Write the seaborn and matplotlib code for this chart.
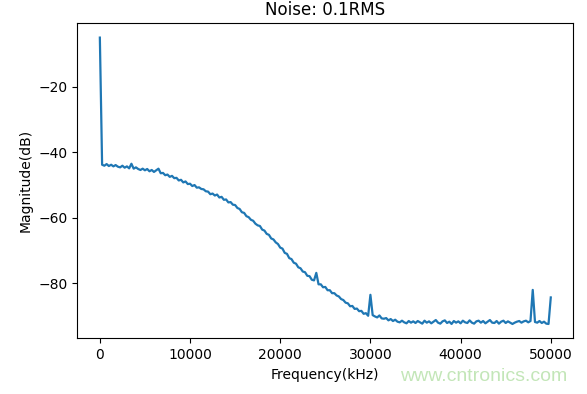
import matplotlib
matplotlib.use("Agg")
import matplotlib.pyplot as plt
import seaborn as sns
import pandas as pd
import numpy as np

# frequency grid (kHz), one reading every 250 kHz
freq_step = 250
freq_khz = list(range(0, 50001, freq_step))

# magnitude (dB), rows of 10 readings (2500 kHz each)
magnitude_db = [
    -5.0, -43.8, -44.1, -43.6, -44.2, -43.8, -44.3, -43.9, -44.4, -44.6,
    -44.1, -44.7, -44.3, -44.9, -43.5, -45.0, -44.6, -45.1, -45.4, -45.0,
    -45.5, -45.1, -45.8, -45.4, -46.0, -45.5, -45.0, -46.4, -46.3, -47.0,
    -46.8, -47.5, -47.2, -47.9, -47.8, -48.6, -48.4, -49.2, -48.9, -49.7,
    -49.6, -50.3, -50.0, -50.8, -50.7, -51.2, -51.3, -51.9, -52.0, -52.8,
    -52.6, -53.2, -52.9, -53.8, -53.6, -54.5, -54.4, -55.3, -55.2, -56.0,
    -56.1, -57.0, -57.3, -58.3, -58.5, -59.5, -59.8, -60.6, -60.9, -61.8,
    -62.3, -62.5, -63.6, -63.9, -64.9, -65.2, -66.3, -66.6, -67.5, -68.0,
    -69.1, -69.4, -70.7, -71.0, -72.3, -72.6, -73.7, -74.0, -75.1, -75.4,
    -76.4, -76.6, -77.7, -77.8, -78.9, -79.1, -76.8, -80.3, -80.3, -81.2,
    -81.1, -82.1, -82.1, -83.0, -83.0, -83.7, -84.0, -84.8, -85.1, -85.9,
    -86.1, -87.0, -86.9, -87.8, -87.7, -88.5, -88.4, -89.3, -89.1, -89.9,
    -83.5, -89.7, -90.1, -90.4, -89.8, -90.7, -90.8, -90.6, -91.3, -90.9,
    -91.5, -91.1, -91.7, -91.9, -91.4, -91.9, -92.2, -91.5, -92.0, -91.6,
    -92.1, -91.5, -91.9, -92.3, -91.4, -92.0, -91.6, -92.2, -91.7, -91.2,
    -92.0, -92.3, -91.6, -91.3, -92.1, -91.7, -92.4, -91.5, -92.0, -91.6,
    -92.2, -91.4, -91.9, -92.1, -91.3, -92.0, -92.3, -91.6, -91.4, -92.0,
    -91.5, -92.2, -91.7, -91.2, -92.0, -92.1, -91.5, -92.3, -91.7, -91.4,
    -92.1, -91.6, -92.0, -92.4, -92.0, -91.7, -91.5, -92.0, -91.6, -91.4,
    -91.9, -91.5, -82.0, -91.8, -92.0, -91.5, -92.1, -91.7, -92.3, -92.4,
    -84.3,
]

title_text = "Noise: 0.1RMS"
x_label = "Frequency(kHz)"
y_label = "Magnitude(dB)"
watermark = "www.cntronics.com"

df = pd.DataFrame({"freq": freq_khz, "mag": magnitude_db})

fig = plt.figure(figsize=(5.87, 3.94), dpi=100)
ax = fig.add_axes([0.1317, 0.1414, 0.9767 - 0.1317, 0.9409 - 0.1414])

sns.lineplot(data=df, x="freq", y="mag", ax=ax, color="#1f77b4", linewidth=1.6)

ax.set_yticks([-20, -40, -60, -80])
ax.set_xticks([0, 10000, 20000, 30000, 40000, 50000])
ax.set_title(title_text, fontsize=12)
ax.set_xlabel(x_label, fontsize=10)
ax.set_ylabel(y_label, fontsize=10)

fig.text(0.966, 0.022, watermark, ha="right", va="bottom", fontsize=14,
         color="#c3e6b8", family=["Liberation Sans", "DejaVu Sans"])

fig.savefig("out.png", dpi=100)
